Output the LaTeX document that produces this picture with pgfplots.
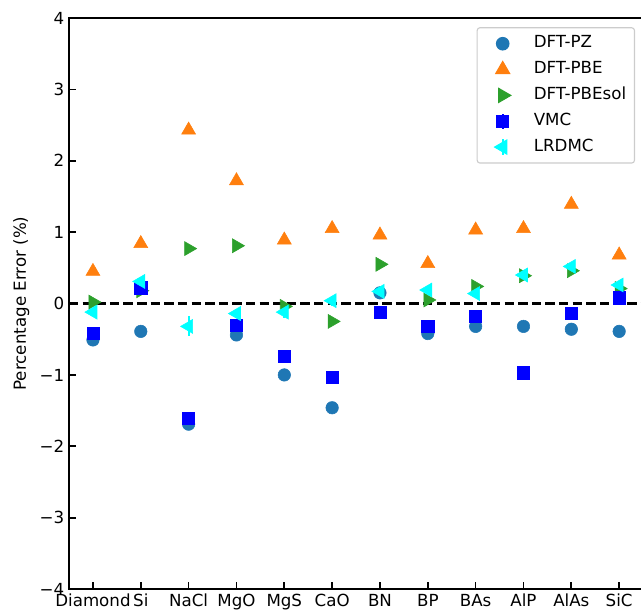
\documentclass[border=0pt]{standalone}
\usepackage{fontspec}
\setmainfont{DejaVu Sans}
\usepackage{pgfplots}
\usepackage{pgfplotstable}
\pgfplotsset{compat=1.18}
\definecolor{cPZ}{HTML}{1F77B4}
\definecolor{cPBE}{HTML}{FF7F0E}
\definecolor{cSOL}{HTML}{2CA02C}
\definecolor{cVMC}{HTML}{0000FF}
\definecolor{cLR}{HTML}{00FFFF}
\pgfplotstableread{
x pz pbe pbesol vmc vmce lr lre
0 -0.51 0.45 0.02 -0.42 0.03 -0.12 0.03
1 -0.39 0.84 0.18 0.22 0.03 0.31 0.03
2 -1.69 2.43 0.77 -1.61 0.08 -0.32 0.14
3 -0.44 1.72 0.81 -0.30 0.03 -0.14 0.06
4 -1.00 0.89 -0.04 -0.74 0.03 -0.12 0.08
5 -1.46 1.05 -0.25 -1.03 0.03 0.04 0.07
6 0.15 0.96 0.55 -0.12 0.03 0.17 0.04
7 -0.42 0.56 0.05 -0.32 0.03 0.19 0.03
8 -0.32 1.03 0.24 -0.18 0.03 0.14 0.03
9 -0.32 1.05 0.39 -0.97 0.03 0.40 0.03
10 -0.36 1.39 0.46 -0.14 0.03 0.52 0.03
11 -0.39 0.68 0.21 0.08 0.03 0.26 0.03
}\datatable
\pgfplotsset{
  mylegend/.style={legend image code/.code={\path (0pt,0pt) (34pt,0pt); \draw[##1, only marks] plot coordinates {(15pt,0pt)};}},
  mylegendbar/.style={legend image code/.code={\path (0pt,0pt) (34pt,0pt); \draw[##1, only marks] plot coordinates {(15pt,0pt)}; \draw[##1, mark=none, line width=1.4pt] (15pt,-5.5pt) -- (15pt,5.5pt);}},
}
\begin{document}
\begin{tikzpicture}
\begin{axis}[
  at={(0,0)}, anchor=south west,
  scale only axis, width=413.3pt, height=411.1pt,
  xmin=-0.5, xmax=11.5, ymin=-4, ymax=4,
  xtick={0,...,11},
  xticklabels={Diamond,Si,NaCl,MgO,MgS,CaO,BN,BP,BAs,AlP,AlAs,SiC},
  ytick={-4,...,4},
  yticklabels={−4,−3,−2,−1,0,1,2,3,4},
  tick align=inside, xtick pos=bottom, ytick pos=left,
  major tick length=5pt,
  tick style={line width=1.2pt, black},
  axis line style={line width=1.5pt},
  ticklabel style={font=\fontsize{12}{14}\selectfont},
  ylabel={Percentage Error (\%)},
  ylabel style={at={(axis description cs:-0.083,0.5)}, rotate=0, anchor=center, font=\fontsize{12}{14}\selectfont},
  legend cell align=left,
  legend style={at={(axis description cs:0.986,0.984)}, anchor=north east,
    draw=black!20, line width=0.8pt, rounded corners=2pt,
    inner xsep=3pt, inner ysep=3.5pt, row sep=2.6pt, column sep=0pt,
    font=\fontsize{12}{14}\selectfont,
    nodes={inner xsep=3pt, inner ysep=2pt, text height=9pt, text depth=3pt}},
]
\addplot[black, line width=1.7pt, dash pattern=on 6.8pt off 3pt, forget plot] coordinates {(-0.5,0) (11.5,0)};
\addplot[only marks, mark=*, mark size=4.5pt, color=cPZ, mark options={draw=cPZ, fill=cPZ}, mylegend] table[x=x, y=pz] {\datatable};
\addlegendentry{DFT-PZ}
\addplot[only marks, mark=triangle*, mark size=5.8pt, color=cPBE, mark options={draw=cPBE, fill=cPBE}, mylegend] table[x=x, y=pbe] {\datatable};
\addlegendentry{DFT-PBE}
\addplot[only marks, mark=triangle*, mark size=5.8pt, color=cSOL, mark options={draw=cSOL, fill=cSOL, rotate=-90}, mylegend] table[x=x, y=pbesol] {\datatable};
\addlegendentry{DFT-PBEsol}
\addplot[only marks, mark=square*, mark size=4.4pt, color=cVMC, mark options={draw=cVMC, fill=cVMC}, mylegendbar,
  error bars/.cd, y dir=both, y explicit, error mark=none, error bar style={line width=1.4pt, cVMC}]
  table[x=x, y=vmc, y error=vmce] {\datatable};
\addlegendentry{VMC}
\addplot[only marks, mark=triangle*, mark size=5.8pt, color=cLR, mark options={draw=cLR, fill=cLR, rotate=90}, mylegendbar,
  error bars/.cd, y dir=both, y explicit, error mark=none, error bar style={line width=1.4pt, cLR}]
  table[x=x, y=lr, y error=lre] {\datatable};
\addlegendentry{LRDMC}
\end{axis}
\pgfresetboundingbox
\path[use as bounding box] (-49.7pt,-15.8pt) rectangle (411.8pt,424.1pt);
\end{tikzpicture}
\end{document}
